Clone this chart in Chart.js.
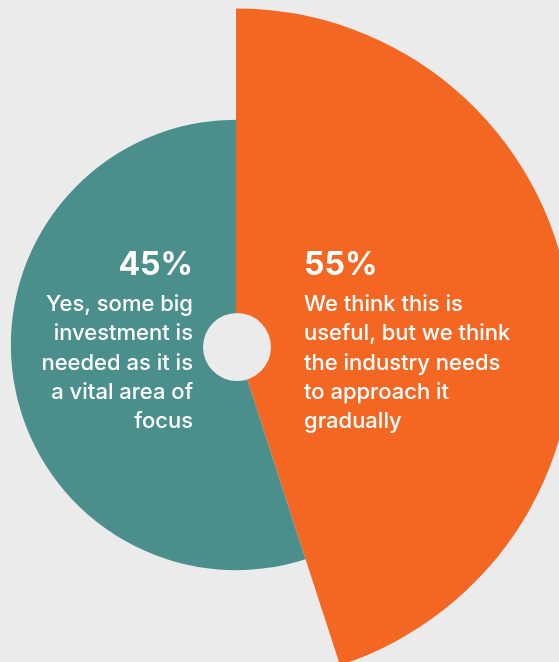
<!DOCTYPE html>
<html lang="en">
<head>
    <meta charset="UTF-8">
    <title>Investment opinion</title>
    <script src="https://cdn.jsdelivr.net/npm/chart.js"></script>
    <style>
        html, body { margin: 0; padding: 0; background: #ebebeb; }
        #wrap { position: relative; width: 559px; height: 662px; overflow: hidden; background: #ebebeb; }
        #box { position: absolute; left: -114px; top: -5px; width: 700px; height: 700px; }
    </style>
</head>
<body>
    <div id="wrap">
        <div id="box"><canvas id="pie" width="700" height="700"></canvas></div>
    </div>

    <script>
        // valori
        const shares = [55, 45];
        const sliceAngles = [162, 198];
        const percentLabels = ['55%', '45%'];
        const descriptions = [
            ['We think this is', 'useful, but we think', 'the industry needs', 'to approach it', 'gradually'],
            ['Yes, some big', 'investment is', 'needed as it is', 'a vital area of', 'focus']
        ];
        const colors = ['#f46722', '#4a8f8c'];

        const bg = '#ebebeb';

        // gaura din mijloc + textele
        const labelsPlugin = {
            id: 'labelsPlugin',
            afterDatasetsDraw(chart) {
                const scale = chart.scales.r;
                const cx = scale.xCenter;
                const cy = scale.yCenter;
                const ctx = chart.ctx;
                ctx.save();
                ctx.fillStyle = bg;
                ctx.beginPath();
                ctx.arc(cx + 1, cy + 2, 34, 0, Math.PI * 2);
                ctx.fill();

                ctx.fillStyle = '#ffffff';
                ctx.textBaseline = 'alphabetic';
                [0, 1].forEach(i => {
                    const right = i === 1;
                    const x = right ? cx - 43 : cx + 68;
                    ctx.textAlign = right ? 'right' : 'left';
                    ctx.font = '700 32px Inter';
                    ctx.fillText(percentLabels[i], x, cy - 70);
                    ctx.font = '500 22px Inter';
                    descriptions[i].forEach((line, j) => {
                        ctx.fillText(line, x, cy - 34 + j * 29.3);
                    });
                });
                ctx.restore();
            }
        };

        new Chart(document.getElementById('pie').getContext('2d'), {
            type: 'polarArea',
            data: {
                labels: percentLabels,
                datasets: [{
                    data: shares,
                    angle: sliceAngles,
                    backgroundColor: colors,
                    borderWidth: 0
                }]
            },
            options: {
                responsive: false,
                animation: false,
                layout: { padding: 0 },
                plugins: {
                    legend: { display: false },
                    tooltip: { enabled: false }
                },
                scales: {
                    r: {
                        display: false,
                        min: 24.8,
                        max: 56.2,
                        startAngle: 0
                    }
                }
            },
            plugins: [labelsPlugin]
        });
    </script>
</body>
</html>
